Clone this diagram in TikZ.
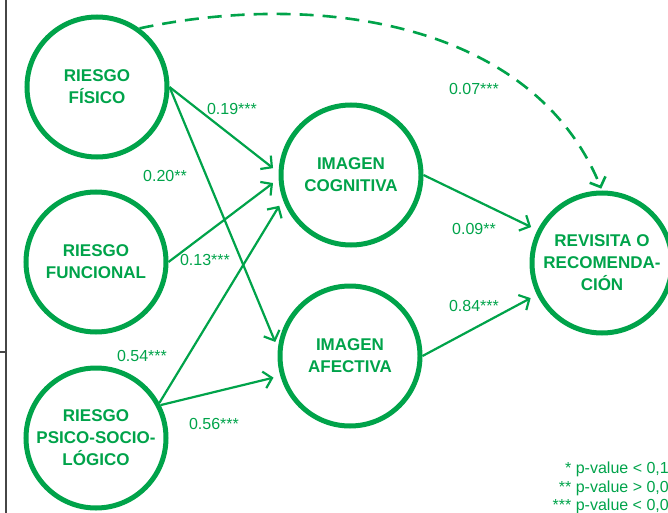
\documentclass[tikz,border=0pt]{standalone}
\usepackage{fontspec}
\setmainfont{Liberation Sans}
\usetikzlibrary{arrows.meta}
\definecolor{verde}{RGB}{0,163,74}
\definecolor{marco}{RGB}{70,70,70}

\begin{document}
\begin{tikzpicture}[x=1pt, y=-1pt,
    constructo/.style={circle, draw=verde, line width=5pt, minimum size=140pt, inner sep=0pt,
        align=center, text=verde, font=\fontsize{17}{22}\selectfont\bfseries},
    camino/.style={draw=verde, line width=2.2pt, -{Straight Barb[length=8pt,width=17pt]}, shorten >=7pt},
    coef/.style={text=verde, font=\fontsize{16}{18}\selectfont, inner sep=0pt}]
    % Fix the frame
    \clip (0,0) rectangle (668,513);

    % Draw the page margin line
    \draw[marco, line width=2pt] (6,0) -- (6,513);
    \draw[marco, line width=2pt] (0,352) -- (6,352);

    % Draw the constructs
    \node[constructo] (fis) at (97,87) {RIESGO\\FÍSICO};
    \node[constructo] (fun) at (96,262) {RIESGO\\FUNCIONAL};
    \node[constructo] (psi) at (96,438) {RIESGO\\PSICO-SOCIO-\\LÓGICO};
    \node[constructo] (cog) at (351,175) {IMAGEN\\COGNITIVA};
    \node[constructo] (afe) at (350,356) {IMAGEN\\AFECTIVA};
    \node[constructo] (rev) at (602,263) {REVISITA O\\RECOMENDA-\\CIÓN};

    % Draw the paths
    \draw[camino] (fis.east) -- (cog.178);
    \draw[camino] (fis.east) -- (afe.174);
    \draw[camino] (fun.east) -- (cog.183);
    \draw[camino] (psi.29) -- (cog.200);
    \draw[camino] (psi.27) -- (afe.196);
    \draw[camino] (cog.east) -- (rev.153);
    \draw[camino] (afe.east) -- (rev.206);

    % Draw the direct path (dashed)
    \draw[camino, line width=2.6pt, dash pattern=on 14pt off 9pt, shorten >=2pt]
        (fis.54) to[out=12, in=112, looseness=0.95] (rev.north);

    % Label the coefficients
    \node[coef] (c1) at (232,109) {0.19***};
    \node[coef] (c2) at (165,176) {0.20**};
    \node[coef] (c3) at (205,260) {0.13***};
    \node[coef] (c4) at (142,356) {0.54***};
    \node[coef] (c5) at (214,424) {0.56***};
    \node[coef] (c6) at (474,89) {0.07***};
    \node[coef] (c7) at (474,229) {0.09**};
    \node[coef] (c8) at (474,306) {0.84***};

    % Significance note
    \node[coef, anchor=east] (n1) at (669,469) {* p-value < 0,1};
    \node[coef, anchor=east] (n2) at (669,488) {** p-value > 0,0};
    \node[coef, anchor=east] (n3) at (669,506) {*** p-value < 0,0};
\end{tikzpicture}
\end{document}
